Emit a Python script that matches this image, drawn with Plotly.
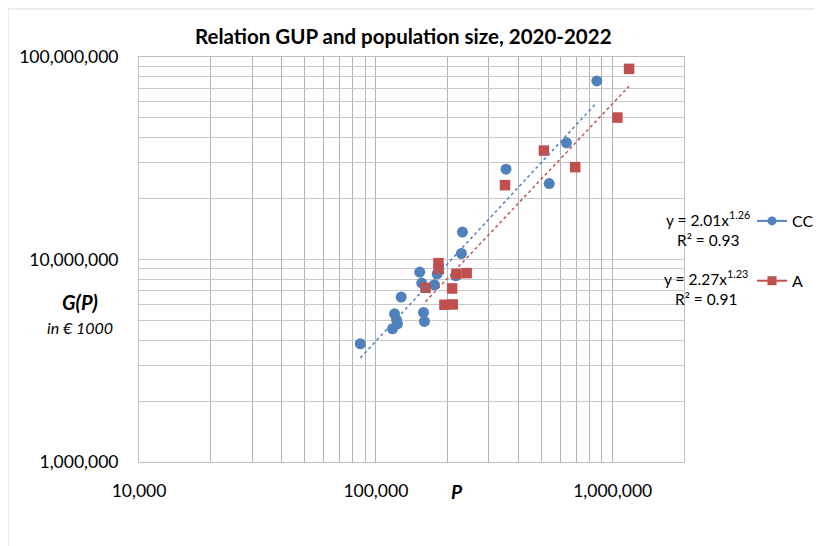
import numpy as np
import plotly.graph_objects as go

# ---- data ----
cc_pop = [86000, 117600, 123400, 122300, 119900, 127900, 158900, 160400, 153200, 156200,
          176800, 181500, 217400, 229700, 232000, 354400, 539500, 638100, 857000]
cc_gup = [3836000, 4549000, 4815000, 5039000, 5395000, 6523000, 5475000, 4943000, 8667000, 7646000,
          7500000, 8500000, 8308000, 10706000, 13655000, 27940000, 23720000, 37670000, 76200000]

a_pop = [162000, 183800, 184300, 194800, 211100, 209900, 218800, 241800,
         351000, 512500, 694400, 1046600, 1172600]
a_gup = [7250000, 9598000, 8966000, 5976000, 5997000, 7193000, 8500000, 8568000,
         23290000, 34510000, 28580000, 50220000, 87370000]

series_names = ["CC", "A"]
equations = ["y = 2.01x<sup>1.26</sup><br>R² = 0.93", "y = 2.27x<sup>1.23</sup><br>R² = 0.91"]

x_ticks = [10000, 100000, 1000000]
x_tick_labels = ["10,000", "100,000", "1,000,000"]
y_ticks = [1000000, 10000000, 100000000]
y_tick_labels = ["1,000,000", "10,000,000", "100,000,000"]

BLUE = "#4f81bd"
RED = "#c0504d"
FONT = "Lato"

# page body has an 8px margin; lay out in page coordinates
OFF = 8
W, H = 822 - OFF, 546 - OFF
L, R, T, B = 139, 684, 57, 462   # plot area in page coords


def px(xp):
    return (xp - L) / (R - L)


def py(yp):
    return (B - yp) / (B - T)


def grid_vals(decades, top):
    vals, texts = [], []
    for d in decades:
        for k in range(1, 10):
            v = k * 10 ** d
            if v > top:
                break
            vals.append(v)
            texts.append("")
    return vals, texts


xv, xt = grid_vals(range(4, 7), 2000000)
for tv, tl in zip(x_ticks, x_tick_labels):
    xt[xv.index(tv)] = tl
yv, yt = grid_vals(range(6, 9), 100000000)
for tv, tl in zip(y_ticks, y_tick_labels):
    yt[yv.index(tv)] = tl

fig = go.Figure()


def power_fit(x, y):
    lx, ly = np.log10(x), np.log10(y)
    b, a = np.polyfit(lx, ly, 1)
    xs = np.logspace(lx.min(), lx.max(), 50)
    return xs, 10 ** a * xs ** b


for pop, gup, col, sym in [(cc_pop, cc_gup, BLUE, "circle"), (a_pop, a_gup, RED, "square")]:
    fig.add_trace(go.Scatter(x=pop, y=gup, mode="markers", showlegend=False,
                             marker=dict(color=col, size=11 if sym == "circle" else 10.5,
                                         symbol=sym, line=dict(width=0))))
for pop, gup, col in [(cc_pop, cc_gup, BLUE), (a_pop, a_gup, RED)]:
    xs, ys = power_fit(np.array(pop, float), np.array(gup, float))
    fig.add_trace(go.Scatter(x=xs, y=ys, mode="lines", showlegend=False,
                             line=dict(color=col, width=1.5, dash="dot")))

# legend entries
for col, sym, name, grp in [(BLUE, "circle", series_names[0], "g1"), (RED, "square", series_names[1], "g2")]:
    fig.add_trace(go.Scatter(x=[None], y=[None], mode="lines+markers", name=name, legendgroup=grp,
                             line=dict(color=col, width=2),
                             marker=dict(color=col, symbol=sym, size=9)))


def ann(text, x, y, size, align="center"):
    return dict(text=text, x=px(x), y=py(y), xref="paper", yref="paper", showarrow=False,
                xanchor="center", yanchor="middle", align=align,
                font=dict(size=size, color="#000", family=FONT))


annotations = [
    ann("<b>Relation GUP and population size, 2020-2022</b>", 403, 36, 20.5),
    ann("<b><i>P</i></b>", 457, 492, 19),
    ann("<b><i>G(P)</i></b>", 80, 302, 20),
    ann("<i>in € 1000</i>", 80, 327, 16),
    ann(equations[0], 708, 228, 15.5),
    ann(equations[1], 706, 287, 15.5),
]

fig.update_layout(
    width=W, height=H,
    margin=dict(l=L - OFF, r=(W + OFF) - R, t=T - OFF, b=(H + OFF) - B, autoexpand=False),
    paper_bgcolor="white", plot_bgcolor="white",
    font=dict(family=FONT, size=17.5, color="#000"),
    annotations=annotations,
    showlegend=True,
    legend=dict(x=px(752), y=py(204), xanchor="left", yanchor="top",
                traceorder="grouped", tracegroupgap=36, itemwidth=30,
                font=dict(size=16), bgcolor="rgba(0,0,0,0)"),
    shapes=[dict(type="rect", xref="paper", yref="paper", x0=px(8), y0=py(9), x1=px(840), y1=py(560),
                 line=dict(color="#d9d9d9", width=1), layer="below")],
)
fig.update_xaxes(type="log", range=[4, np.log10(2000000)], tickmode="array", tickvals=xv, ticktext=xt,
                 showgrid=True, gridcolor="#b3b3b3", gridwidth=1, ticks="", ticklabelstandoff=13,
                 showline=True, linecolor="#bfbfbf", mirror=True, zeroline=False,
                 tickfont=dict(size=17.5))
fig.update_yaxes(type="log", range=[6, 8], tickmode="array", tickvals=yv, ticktext=yt,
                 showgrid=True, gridcolor="#c8c8c8", gridwidth=1, ticks="", ticklabelstandoff=16,
                 showline=True, linecolor="#bfbfbf", mirror=True, zeroline=False,
                 tickfont=dict(size=17.5))

fig.write_html("out.html")
